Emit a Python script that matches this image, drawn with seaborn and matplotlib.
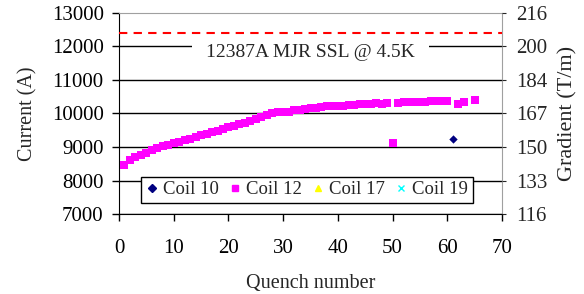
import numpy as np
import pandas as pd

from matplotlib import pyplot as plt
from matplotlib.lines import Line2D
import seaborn as sns

sns.set_style("white")
plt.rcParams["font.family"] = ["Liberation Serif", "DejaVu Serif"]

# Coil 12 quench history
coil12_quench = list(range(1, 51)) + [51, 52, 53, 54, 55, 56, 57, 58, 59, 60, 62, 63, 65]
coil12_current = [
    8460, 8620, 8700, 8770, 8830, 8900, 8970, 9030, 9070, 9110,
    9160, 9200, 9250, 9310, 9360, 9400, 9440, 9490, 9540, 9590,
    9640, 9680, 9720, 9780, 9840, 9890, 9950, 10000, 10030, 10040,
    10050, 10090, 10110, 10130, 10150, 10170, 10190, 10210, 10220, 10230,
    10230, 10240, 10260, 10280, 10290, 10280, 10300, 10290, 10310, 9110,
    10320, 10340, 10340, 10340, 10340, 10340, 10370, 10370, 10370, 10370,
    10290, 10340, 10410,
]
coil10_quench = [61]
coil10_current = [9250]

ssl_current = 12387
ssl_label = "12387A MJR SSL @ 4.5K"

current_ticks = [7000, 8000, 9000, 10000, 11000, 12000, 13000]
gradient_labels = ["116", "133", "150", "167", "184", "200", "216"]

df12 = pd.DataFrame({"Quench": coil12_quench, "Current": coil12_current})
df10 = pd.DataFrame({"Quench": coil10_quench, "Current": coil10_current})

fig = plt.figure(figsize=(5.84, 2.94), dpi=100)
ax = fig.add_axes([0.2038, 0.271, 0.6558, 0.686])

ax.axhline(ssl_current, color="red", linestyle=(0, (4, 3)), linewidth=1.5, zorder=5)

sns.scatterplot(data=df12, x="Quench", y="Current", marker="s", color="#FF00FF",
                s=30, linewidth=0, ax=ax, zorder=3)
sns.scatterplot(data=df10, x="Quench", y="Current", marker="D", color="#000080",
                s=18, linewidth=0, ax=ax, zorder=3)

ax.set_xlim(0, 70)
ax.set_ylim(7000, 13000)
ax.set_xticks(range(0, 71, 10))
ax.set_yticks(current_ticks)
ax.yaxis.grid(True, color="black", linewidth=1)
ax.set_axisbelow(True)
ax.set_xlabel("Quench number", fontsize=14.5, labelpad=11)
ax.set_ylabel("Current (A)", fontsize=14.5, labelpad=10)
ax.tick_params(axis="both", labelsize=15, direction="out", length=5, width=1,
               bottom=True, left=True, colors="black")
ax.tick_params(axis="x", pad=13)
ax.tick_params(axis="y", pad=6)
for s in ["left", "bottom"]:
    ax.spines[s].set_color("black")
for s in ["top", "right"]:
    ax.spines[s].set_color("#a0a0a0")

ax.text(35, 11800, ssl_label, ha="center", va="center", fontsize=14,
        bbox=dict(facecolor="white", edgecolor="none", pad=10), zorder=4)

ax2 = ax.twinx()
ax2.set_ylim(7000, 13000)
ax2.set_yticks(current_ticks)
ax2.set_yticklabels(gradient_labels)
ax2.tick_params(axis="y", labelsize=15, direction="out", length=3, right=True, pad=7)
ax2.set_ylabel("Gradient (T/m)", fontsize=16, labelpad=8)
for s in ax2.spines.values():
    s.set_visible(False)

handles = [
    Line2D([], [], marker="D", color="#000080", linestyle="none", markersize=4),
    Line2D([], [], marker="s", color="#FF00FF", linestyle="none", markersize=5),
    Line2D([], [], marker="^", color="#FFFF00", linestyle="none", markersize=5),
    Line2D([], [], marker="x", color="#00FFFF", linestyle="none", markersize=5),
]
leg = ax.legend(handles, ["Coil 10", "Coil 12", "Coil 17", "Coil 19"], ncol=4,
                loc="lower center", bbox_to_anchor=(0.49, 0.056), fontsize=13.5,
                frameon=True, fancybox=False, edgecolor="black", framealpha=1,
                handletextpad=0.25, columnspacing=0.5, borderpad=0.25,
                handlelength=0.7, borderaxespad=0)
leg.get_frame().set_linewidth(1)

fig.canvas.draw()
ax.get_ygridlines()[-1].set_visible(False)

fig.savefig("out.png", dpi=100)
